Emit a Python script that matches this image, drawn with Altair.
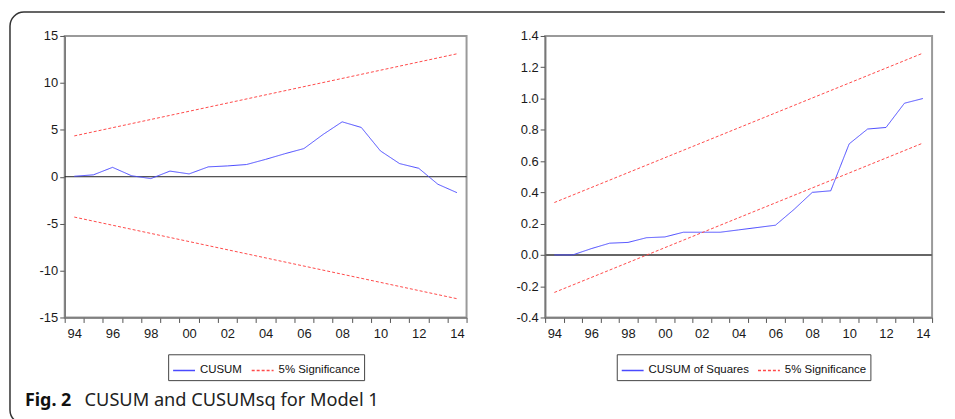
import altair as alt
import pandas as pd

years = list(range(1994, 2015))
cusum = [0.05, 0.2, 1.0, 0.1, -0.2, 0.6, 0.3, 1.05, 1.15, 1.3, 1.85, 2.45, 3.0,
         4.5, 5.85, 5.25, 2.75, 1.4, 0.9, -0.8, -1.7]
sig_years = [1994, 2014]
cusum_upper = [4.35, 13.1]
cusum_lower = [-4.3, -13.0]

cusumsq = [0.0, 0.0, 0.04, 0.075, 0.08, 0.11, 0.115, 0.145, 0.145, 0.145, 0.16,
           0.175, 0.19, 0.29, 0.40, 0.41, 0.71, 0.805, 0.815, 0.97, 1.0]
sq_upper = [0.335, 1.29]
sq_lower = [-0.24, 0.715]

left_series = ["CUSUM", "5% Significance"]
right_series = ["CUSUM of Squares", "5% Significance"]
left_ticks = [-15, -10, -5, 0, 5, 10, 15]
right_ticks = [-0.4, -0.2, 0.0, 0.2, 0.4, 0.6, 0.8, 1.0, 1.2, 1.4]
caption_bold = "Fig. 2"
caption_text = "CUSUM and CUSUMsq for Model 1"

BLUE = "#4a4aff"
RED = "#ff4a4a"
FONT = "Liberation Sans"
CAP_FONT = "Noto Sans"

W1, W2, H = 404, 389, 283
boundaries = [1993.5 + i for i in range(22)]


def long_df(main_name, main_vals, up, lo):
    rows = []
    for y, v in zip(years, main_vals):
        rows.append({"year": y, "value": v, "series": main_name, "part": "main"})
    for y, v in zip(sig_years, up):
        rows.append({"year": y, "value": v, "series": "5% Significance", "part": "upper"})
    for y, v in zip(sig_years, lo):
        rows.append({"year": y, "value": v, "series": "5% Significance", "part": "lower"})
    return pd.DataFrame(rows)


def panel(df, names, width, ydomain, yticks, yformat, legx, zero_color, zero_width):
    half = width / 21 / 2
    xaxis = alt.Axis(
        values=boundaries, title=None, grid=False, tickSize=5,
        labelExpr="((datum.value + 0.5) % 2 == 0 && datum.value < 2014) ? substring(toString(datum.value + 0.5), 2) : ''",
        labelOffset=half, labelFlush=False, labelOverlap=False, labelBound=False,
        labelPadding=5, labelFontSize=13, labelFont=FONT, labelColor="#1a1a1a",
    )
    yaxis = alt.Axis(values=yticks, title=None, grid=False, tickSize=5,
                     labelExpr="replace(format(datum.value, '" + yformat + "'), '\u2212', '-')",
                     labelPadding=2, labelOverlap=False,
                     labelFlush=False, labelFontSize=13, labelFont=FONT,
                     labelColor="#1a1a1a", tickCount=len(yticks))
    yscale = alt.Scale(domain=ydomain, nice=False, zero=False)
    x = alt.X("year:Q", scale=alt.Scale(domain=[1993.5, 2014.5], nice=False, zero=False), axis=xaxis)
    y = alt.Y("value:Q", scale=yscale, axis=yaxis)
    leg = alt.Legend(orient="none", legendX=legx, legendY=320, direction="horizontal",
                     title=None, fillColor="white", strokeColor="#444", padding=4,
                     symbolType="stroke", symbolSize=484, symbolStrokeWidth=1.5,
                     labelFont=FONT, labelFontSize=11.5, labelColor="#111",
                     columnPadding=6, labelLimit=300)
    zero = alt.Chart(pd.DataFrame({"value": [0]})).mark_rule(
        color=zero_color, strokeWidth=zero_width).encode(y=y)
    lines = alt.Chart(df).mark_line(strokeWidth=1, clip=False).encode(
        x=x, y=y,
        color=alt.Color("series:N", scale=alt.Scale(domain=names, range=[BLUE, RED]),
                        sort=names, legend=leg),
        strokeDash=alt.StrokeDash("series:N", scale=alt.Scale(domain=names, range=[[1, 0], [3, 2]]),
                                  sort=names, legend=leg),
        detail="part:N",
    )
    return zero, lines


left_df = long_df("CUSUM", cusum, cusum_upper, cusum_lower)
right_df = long_df("CUSUM of Squares", cusumsq, sq_upper, sq_lower)

lz, ll = panel(left_df, left_series, W1, [-15, 15], left_ticks, "d", 104, "#222", 1)
rz, rl = panel(right_df, right_series, W2, [-0.4, 1.4], right_ticks, ".1f", 72, "#666", 2)

one = pd.DataFrame({"bold": [caption_bold], "text": [caption_text]})
# outer rounded frame (right edge hidden under a white rule, as in the cropped original)
frame = alt.Chart(one).mark_rect(fillOpacity=0, stroke="#333", strokeWidth=1.5,
                                 cornerRadiusTopLeft=14, cornerRadiusBottomLeft=14).encode(
    x=alt.value(-55), x2=alt.value(884), y=alt.value(-24), y2=alt.value(390)
)
frame_cut = alt.Chart(one).mark_rule(color="white", strokeWidth=4).encode(
    x=alt.value(884), y=alt.value(-23.2), y2=alt.value(392)
)
cap1 = alt.Chart(one).mark_text(align="left", baseline="alphabetic", font=CAP_FONT,
                                fontSize=18, fontWeight="bold", color="#111").encode(
    x=alt.value(-40), y=alt.value(372), text="bold:N"
)
cap2 = alt.Chart(one).mark_text(align="left", baseline="alphabetic", font=CAP_FONT,
                                fontSize=18.3, color="#222").encode(
    x=alt.value(20), y=alt.value(372), text="text:N"
)

left = alt.layer(frame, frame_cut, lz, ll, cap1, cap2).properties(width=W1, height=H)
right = alt.layer(rz, rl).properties(width=W2, height=H)

chart = alt.hconcat(left, right, spacing=79, bounds="flush").resolve_scale(
    color="independent", strokeDash="independent"
).resolve_legend(color="independent", strokeDash="independent").properties(
    padding={"left": 0, "top": 0, "right": 0, "bottom": 0}, background="white"
).configure_view(stroke="#9a9a9a", strokeWidth=2).configure_axis(
    labelFont=FONT, labelFontSize=13, labelColor="#1a1a1a",
    domainColor="#777", domainWidth=1.5, tickColor="#555", labelOverlap=False
)

chart.save("out.html", embed_options={"renderer": "svg", "actions": False})
